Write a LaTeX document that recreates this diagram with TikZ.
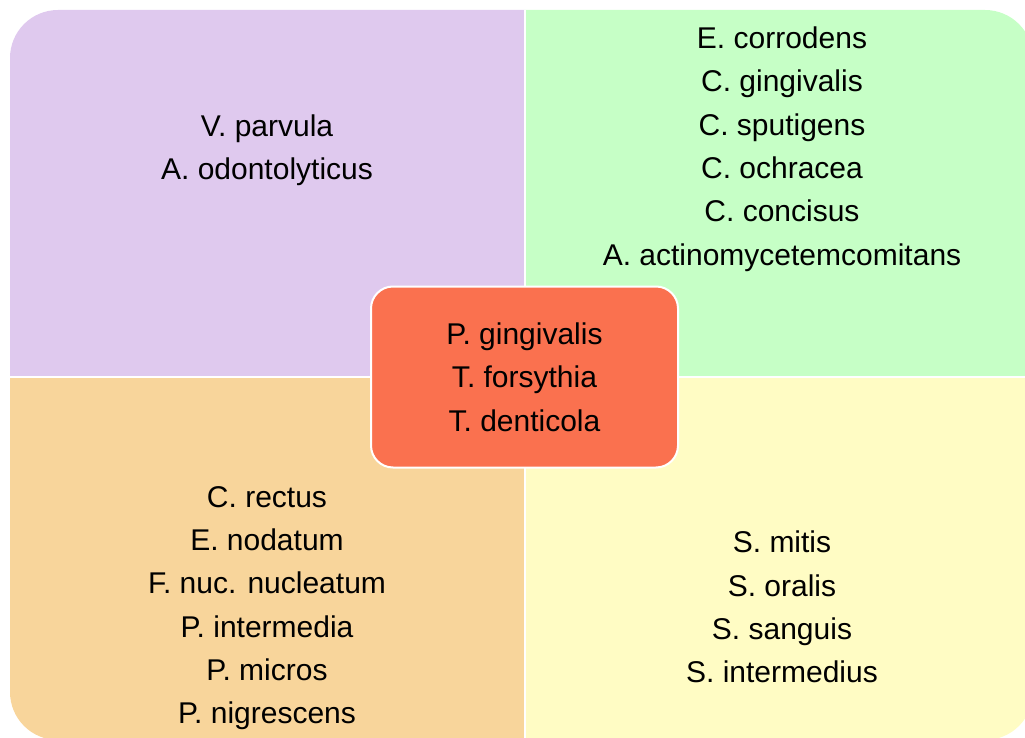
\documentclass[tikz,border=0pt]{standalone}
\usepackage{fontspec}
\setmainfont{Liberation Sans}
\definecolor{lilac}{RGB}{223,201,238}
\definecolor{mint}{RGB}{198,255,198}
\definecolor{sand}{RGB}{248,213,155}
\definecolor{lemon}{RGB}{255,252,196}
\definecolor{coral}{RGB}{250,113,79}
\begin{document}
\begin{tikzpicture}[x=1pt,y=-1pt,
  names/.style={align=center,inner sep=0pt,font=\fontsize{30}{43.3}\selectfont},
  core/.style={draw=white,line width=2pt,fill=coral,rounded corners=22pt,
    minimum width=307pt,minimum height=181pt,names}]
\useasboundingbox (0,0) rectangle (1025,738);
\coordinate (NW) at (10,10);
\coordinate (SE) at (1033,740);
\coordinate (M) at (524.5,377);

% four quarters of one rounded square
\begin{scope}
\clip (NW) rectangle (M);
\fill[lilac,rounded corners=48pt] (NW) rectangle (SE);
\end{scope}
\begin{scope}
\clip (M |- NW) rectangle (SE |- M);
\fill[mint,rounded corners=48pt] (NW) rectangle (SE);
\end{scope}
\begin{scope}
\clip (NW |- M) rectangle (M |- SE);
\fill[sand,rounded corners=48pt] (NW) rectangle (SE);
\end{scope}
\begin{scope}
\clip (M) rectangle (SE);
\fill[lemon,rounded corners=48pt] (NW) rectangle (SE);
\end{scope}
\draw[white,line width=2pt] (M |- NW) -- (M |- SE);
\draw[white,line width=2pt] (NW |- M) -- (SE |- M);

\node[names] (tl) at (267,150) {V. parvula\\A. odontolyticus};
\node[names] (tr) at (782,149) {E. corrodens\\C. gingivalis\\C. sputigens\\C. ochracea\\C. concisus\\A. actinomycetemcomitans};
\node[names] (bl) at (267,608) {C. rectus\\E. nodatum\\F. nuc. nucleatum\\P. intermedia\\P. micros\\P. nigrescens};
\node[names] (br) at (782,607) {S. mitis\\S. oralis\\S. sanguis\\S. intermedius};

\node[core] (red) at (M) {P. gingivalis\\T. forsythia\\T. denticola};
\end{tikzpicture}
\end{document}
